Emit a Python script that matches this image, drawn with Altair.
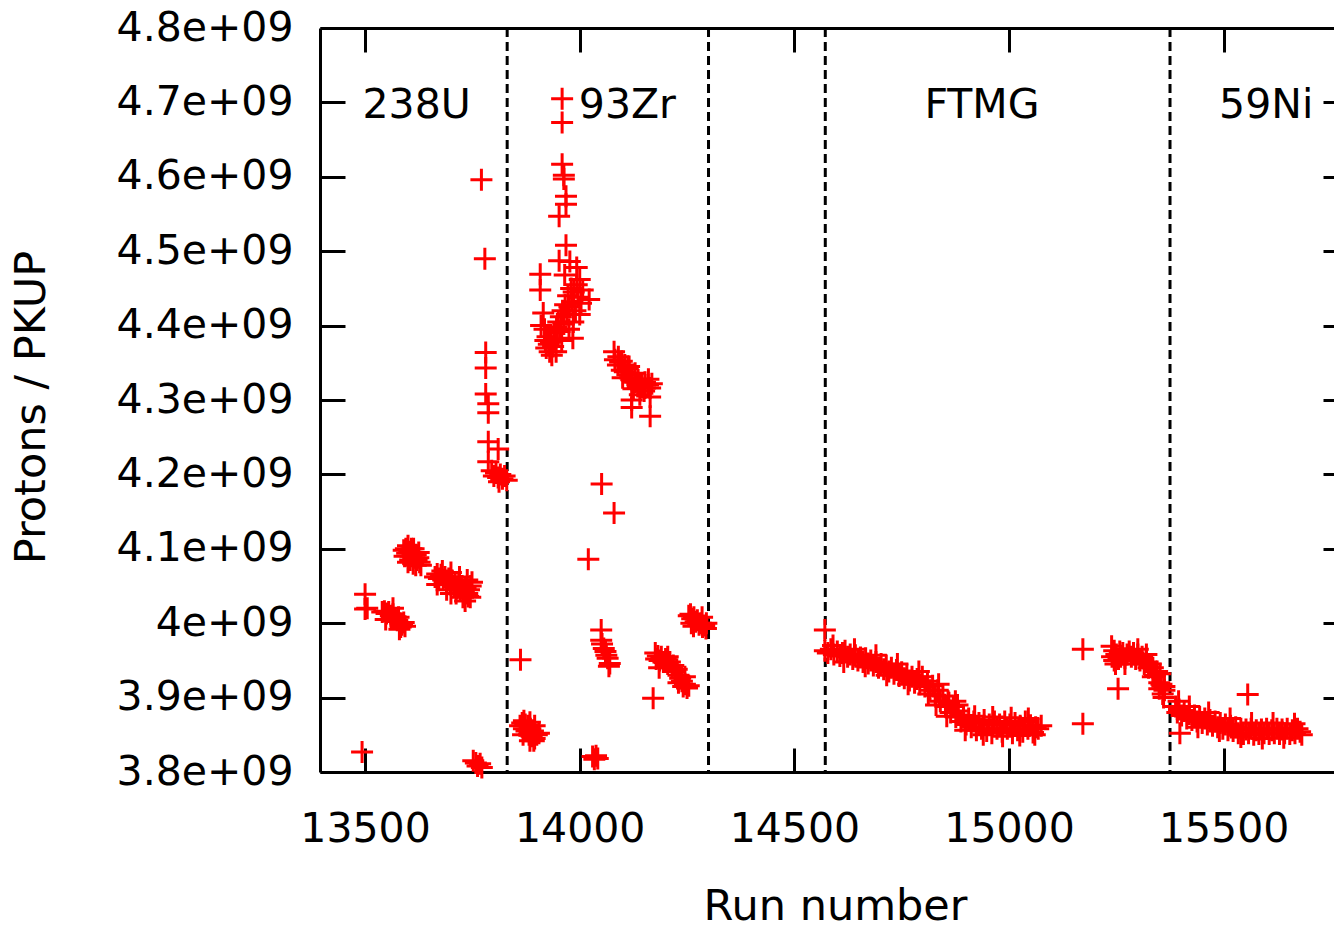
import altair as alt
import pandas as pd

# ---------------- data ----------------
# y values are in units of 1e9 protons / PKUP
u238_run = [13493, 13500, 13500, 13505,
            13540, 13545, 13550, 13555, 13560, 13565, 13570, 13575, 13578, 13582, 13586, 13590, 13593, 13583,
            13548, 13565, 13580,
            13590, 13595, 13598, 13603, 13606, 13610, 13613, 13615, 13618, 13620, 13624, 13627, 13630, 13605, 13612,
            13592, 13600, 13608, 13618, 13625, 13600,
            13663, 13668, 13672, 13677, 13682, 13686, 13690, 13695, 13698, 13703, 13707, 13710, 13714, 13718,
            13722, 13726, 13730, 13734, 13738, 13742, 13746, 13749, 13733, 13740,
            13668, 13680, 13690, 13700, 13712, 13720, 13728, 13738, 13745, 13700,
            13752, 13758, 13762, 13768, 13772,
            13771, 13779, 13781, 13781, 13781, 13787, 13787, 13787, 13810, 13787,
            13795, 13800, 13805, 13810, 13815, 13820, 13825, 13830, 13812]
u238_val = [3.827, 4.039, 4.019, 4.020,
            4.015, 4.016, 4.013, 4.015, 4.010, 4.012, 4.007, 4.004, 4.008, 4.000, 3.998, 4.001, 3.996, 3.995,
            4.005, 4.020, 3.992,
            4.098, 4.100, 4.094, 4.096, 4.090, 4.094, 4.100, 4.088, 4.092, 4.085, 4.088, 4.082, 4.078, 4.085, 4.080,
            4.090, 4.082, 4.100, 4.078, 4.095, 4.104,
            4.062, 4.066, 4.060, 4.065, 4.058, 4.062, 4.055, 4.060, 4.052, 4.057, 4.050, 4.055, 4.047, 4.052,
            4.045, 4.050, 4.042, 4.048, 4.040, 4.045, 4.050, 4.055, 4.030, 4.036,
            4.052, 4.070, 4.045, 4.068, 4.040, 4.062, 4.035, 4.058, 4.035, 4.040,
            3.815, 3.812, 3.808, 3.811, 3.806,
            4.596, 4.490, 4.364, 4.343, 4.308, 4.295, 4.283, 4.244, 4.234, 4.217,
            4.205, 4.198, 4.202, 4.196, 4.200, 4.194, 4.198, 4.192, 4.190]

zr93_run = [13862, 13861, 13866, 13870, 13873, 13876, 13879, 13882, 13885, 13888, 13891, 13895, 13900, 13905,
            13884, 13893, 13870, 13884, 13868, 13895,
            13959, 13959, 13959, 13963, 13963, 13968, 13968, 13952, 13968, 13952, 13908, 13908,
            13915, 13918, 13920, 13922, 13925, 13928, 13930, 13933, 13935, 13938, 13940, 13943, 13946, 13950,
            13953, 13956, 13960, 13963, 13966, 13970, 13973, 13976, 13980, 13983, 13986, 13990, 13993, 13996,
            14000, 14003, 14007, 14022, 13975, 13985, 13958, 13945, 13977, 13965, 13993, 14000, 13984, 13910,
            14080, 14082, 14089, 14094, 14098, 14105, 14112, 14117, 14122, 14129, 14136, 14140, 14145, 14152,
            14159, 14164, 14168, 14129, 14105, 14140, 14121, 14121, 14164, 14164, 14152, 14098, 14112,
            14090, 14100, 14115, 14125, 14135, 14150, 14160,
            14051, 14080, 14020,
            14050, 14050, 14052, 14056, 14060, 14062, 14065, 14070, 14068,
            14030, 14034, 14038, 14042,
            14176, 14178, 14182, 14186, 14190, 14195, 14200, 14205, 14210, 14215, 14218, 14222, 14226, 14230,
            14234, 14238, 14241, 14245, 14250, 14254, 14171,
            14185, 14205, 14230, 14245,
            14254, 14258, 14262, 14266, 14270, 14274, 14278, 14282, 14286, 14290, 14294, 14260,
            14265, 14285, 14295]
zr93_val = [3.951, 3.862, 3.866, 3.858, 3.864, 3.855, 3.862, 3.850, 3.858, 3.848, 3.855, 3.845, 3.850, 3.852,
            3.842, 3.842, 3.869, 3.867, 3.850, 3.862,
            4.705, 4.673, 4.617, 4.602, 4.597, 4.574, 4.563, 4.547, 4.508, 4.487, 4.469, 4.448,
            4.417, 4.395, 4.380, 4.370, 4.385, 4.375, 4.365, 4.378, 4.360, 4.372, 4.390, 4.382, 4.398, 4.405,
            4.392, 4.412, 4.420, 4.402, 4.428, 4.415, 4.440, 4.425, 4.450, 4.432, 4.445, 4.420, 4.455, 4.438,
            4.462, 4.430, 4.448, 4.435, 4.395, 4.405, 4.380, 4.365, 4.486, 4.468, 4.478, 4.415, 4.383, 4.400,
            4.365, 4.354, 4.347, 4.351, 4.340, 4.338, 4.334, 4.330, 4.327, 4.324, 4.327, 4.323, 4.320, 4.324,
            4.320, 4.316, 4.322, 4.336, 4.347, 4.307, 4.300, 4.290, 4.304, 4.278, 4.316, 4.352, 4.342,
            4.358, 4.330, 4.345, 4.315, 4.318, 4.312, 4.328,
            4.187, 4.148, 4.086,
            3.991, 3.977, 3.972, 3.966, 3.962, 3.957, 3.953, 3.946, 3.942,
            3.821, 3.817, 3.822, 3.818,
            3.960, 3.952, 3.956, 3.950, 3.955, 3.948, 3.952, 3.945, 3.948, 3.940, 3.943, 3.935, 3.938, 3.930,
            3.926, 3.922, 3.915, 3.918, 3.913, 3.916, 3.899,
            3.940, 3.955, 3.920, 3.928,
            4.010, 4.012, 4.006, 4.008, 4.002, 4.004, 3.998, 4.000, 3.995, 3.997, 3.993, 4.000,
            3.996, 4.008, 4.000]

ftmg_run = [14571, 14571, 14578, 14585, 14592, 14600, 14606, 14612, 14618, 14624, 14630, 14636, 14642, 14648,
            14654, 14660, 14666, 14672, 14678, 14684, 14690, 14696, 14702, 14708, 14714, 14720, 14726, 14732,
            14738, 14744, 14750, 14756, 14762, 14768, 14774, 14780, 14786, 14792, 14798, 14804, 14810, 14816,
            14822, 14828, 14834, 14840, 14846, 14852, 14858, 14864, 14870, 14876, 14882, 14888, 14894, 14900,
            14906, 14912, 14918, 14924, 14930, 14936, 14942, 14948, 14954, 14960, 14966, 14972, 14978, 14984,
            14990, 14996, 15002, 15008, 15014, 15020, 15026, 15032, 15038, 15044, 15050, 15056, 15062, 15068,
            14830, 14860, 14880,
            14590, 14615, 14640, 14665, 14690, 14715, 14740, 14765, 14790, 14812, 14836, 14855, 14875, 14898,
            14920, 14940, 14962, 14985, 15005, 15025, 15045, 15060, 15075,
            15172, 15172]
ftmg_val = [3.991, 3.963, 3.960, 3.965, 3.958, 3.962, 3.956, 3.960, 3.963, 3.955, 3.958, 3.952, 3.957, 3.950,
            3.954, 3.948, 3.953, 3.946, 3.950, 3.943, 3.948, 3.940, 3.945, 3.938, 3.943, 3.935, 3.940, 3.932,
            3.937, 3.929, 3.934, 3.926, 3.931, 3.923, 3.928, 3.920, 3.925, 3.918, 3.928, 3.915, 3.922, 3.910,
            3.916, 3.903, 3.910, 3.895, 3.902, 3.888, 3.895, 3.880, 3.888, 3.874, 3.882, 3.868, 3.876, 3.864,
            3.872, 3.860, 3.868, 3.856, 3.866, 3.858, 3.870, 3.855, 3.864, 3.852, 3.868, 3.858, 3.864, 3.854,
            3.868, 3.858, 3.864, 3.852, 3.866, 3.856, 3.862, 3.854, 3.868, 3.858, 3.863, 3.853, 3.860, 3.858,
            3.890, 3.893, 3.890,
            3.970, 3.948, 3.965, 3.942, 3.957, 3.930, 3.945, 3.918, 3.935, 3.905, 3.918, 3.875, 3.895, 3.856,
            3.875, 3.850, 3.874, 3.848, 3.873, 3.849, 3.872, 3.850, 3.862,
            3.965, 3.865]

ni59_run = [15239, 15254,
            15240, 15245, 15250, 15255, 15260, 15265, 15270, 15275, 15280, 15285, 15290, 15295, 15300, 15305,
            15310, 15315, 15320, 15325, 15330, 15335, 15340, 15345, 15350, 15350, 15355, 15358, 15362, 15362,
            15248, 15258,
            15245, 15270, 15300, 15320, 15335, 15352, 15360,
            15388, 15392, 15396, 15402, 15408, 15414, 15420, 15426, 15432, 15438, 15444, 15450, 15456, 15462,
            15468, 15474, 15480, 15486, 15492, 15498, 15504, 15510, 15516, 15522, 15528, 15534, 15540, 15546,
            15552, 15558, 15564, 15570, 15576, 15582, 15588, 15594, 15600, 15606, 15612, 15618, 15624, 15630,
            15636, 15642, 15648, 15654, 15660, 15666, 15672, 15678,
            15395, 15420, 15440, 15465, 15490, 15515, 15540, 15565, 15590, 15615, 15640, 15665, 15682,
            15398, 15556]
ni59_val = [3.969, 3.912,
            3.955, 3.950, 3.958, 3.952, 3.955, 3.960, 3.953, 3.958, 3.962, 3.955, 3.960, 3.952, 3.958, 3.950,
            3.955, 3.945, 3.948, 3.940, 3.945, 3.940, 3.930, 3.935, 3.920, 3.912, 3.918, 3.905, 3.915, 3.910,
            3.945, 3.962,
            3.963, 3.945, 3.965, 3.958, 3.928, 3.932, 3.900,
            3.888, 3.880, 3.884, 3.876, 3.882, 3.872, 3.878, 3.870, 3.876, 3.868, 3.874, 3.866, 3.872, 3.864,
            3.870, 3.862, 3.868, 3.860, 3.866, 3.858, 3.864, 3.856, 3.862, 3.855, 3.860, 3.852, 3.858, 3.851,
            3.857, 3.852, 3.858, 3.850, 3.856, 3.851, 3.857, 3.852, 3.858, 3.851, 3.856, 3.852, 3.858, 3.851,
            3.857, 3.852, 3.858, 3.851, 3.856, 3.852, 3.858, 3.854,
            3.895, 3.888, 3.860, 3.880, 3.855, 3.872, 3.847, 3.866, 3.845, 3.866, 3.846, 3.865, 3.850,
            3.852, 3.904]

boundary_runs = [13831, 14300, 14572, 15375]

label_text = ["238U", "93Zr", "FTMG", "59Ni"]
label_run = [13620, 14111, 14937, 15599]
label_val = [4.679, 4.679, 4.679, 4.679]

x_ticks = [13500, 14000, 14500, 15000, 15500]
y_ticks = [3.8, 3.9, 4.0, 4.1, 4.2, 4.3, 4.4, 4.5, 4.6, 4.7, 4.8]

# ---------------- tables ----------------
points_df = pd.DataFrame({
    "run": u238_run + zr93_run + ftmg_run + ni59_run,
    "val": u238_val + zr93_val + ftmg_val + ni59_val,
})
rules_df = pd.DataFrame({"run": boundary_runs})
labels_df = pd.DataFrame({"run": label_run, "val": label_val, "label": label_text})

# ---------------- layout ----------------
W, H = 1014, 744
RIGHT_FRAME = 1028  # the frame's right edge lies just past the picture
FONT = "DejaVu Sans"
xs = alt.Scale(domain=[13395, 15757], nice=False, zero=False)
ys = alt.Scale(domain=[3.8, 4.8], nice=False, zero=False)

tick_common = dict(labels=False, grid=False, ticks=True, tickWidth=3, tickColor="black", title=None)

# main points with labelled bottom / left axes (frame lines)
points = alt.Chart(points_df).mark_point(
    shape="M-1,0L1,0M0,-1L0,1", size=484, filled=False, color="#ff0000",
    strokeWidth=3, opacity=1, strokeCap="butt"
).encode(
    x=alt.X("run:Q", scale=xs, axis=alt.Axis(
        orient="bottom", values=x_ticks, format="d", ticks=False, tickSize=0, grid=False,
        labelPadding=37, labelFont=FONT, labelFontSize=41, labelColor="black",
        labelFlush=False, labelOverlap=False,
        domain=True, domainColor="black", domainWidth=3,
        title="Run number", titleFont=FONT, titleFontSize=43, titleFontWeight="normal",
        titleColor="black", titleX=515, titleY=147, titleBaseline="alphabetic", titleAlign="center")),
    y=alt.Y("val:Q", scale=ys, axis=alt.Axis(
        orient="left", values=y_ticks, ticks=False, tickSize=0, grid=False,
        labelExpr="replace(format(datum.value * 1e9, '~e'), 'e+', 'e+0')",
        labelPadding=27, labelFont=FONT, labelFontSize=41, labelColor="black",
        labelFlush=False, labelOverlap=False, labelBaseline="middle",
        domain=True, domainColor="black", domainWidth=3,
        title="Protons / PKUP", titleFont=FONT, titleFontSize=43, titleFontWeight="normal",
        titleColor="black", titleX=-276, titleY=379, titleAngle=270,
        titleBaseline="alphabetic", titleAlign="center")),
)

# dashed separators; their axis draws inward ticks along the bottom frame
rules = alt.Chart(rules_df).mark_rule(
    color="black", strokeWidth=3, strokeDash=[9, 5]
).encode(
    x=alt.X("run:Q", scale=xs, axis=alt.Axis(
        orient="top", offset=-H, values=x_ticks, domain=False, tickSize=24, **tick_common)),
)

# sample labels; their axes draw the top frame + inward top ticks, and right-side ticks
labels = alt.Chart(labels_df).mark_text(
    font=FONT, fontSize=41, color="black", baseline="alphabetic", align="center"
).encode(
    x=alt.X("run:Q", scale=xs, axis=alt.Axis(
        orient="bottom", offset=-H, values=x_ticks, domain=True, domainColor="black",
        domainWidth=3, tickSize=24, **tick_common)),
    y=alt.Y("val:Q", scale=ys, axis=alt.Axis(
        orient="left", offset=-RIGHT_FRAME, values=y_ticks, domain=False, tickSize=25, **tick_common)),
    text="label:N",
)

# invisible layer whose y axis draws inward ticks along the left frame
left_ticks = alt.Chart(labels_df).mark_point(opacity=0).encode(
    x=alt.X("run:Q", scale=xs, axis=None),
    y=alt.Y("val:Q", scale=ys, axis=alt.Axis(
        orient="right", offset=-W, values=y_ticks, domain=False, tickSize=25, **tick_common)),
)

chart = alt.layer(rules, points, labels, left_ticks).resolve_scale(
    x="shared", y="shared"
).resolve_axis(
    x="independent", y="independent"
).properties(
    width=W, height=H,
    autosize=alt.AutoSizeParams(type="none"),
    padding={"left": 320, "top": 28, "right": 0, "bottom": 157},
    background="white",
).configure_view(stroke="transparent")

chart.save("out.html", embed_options={"renderer": "svg", "actions": False})
